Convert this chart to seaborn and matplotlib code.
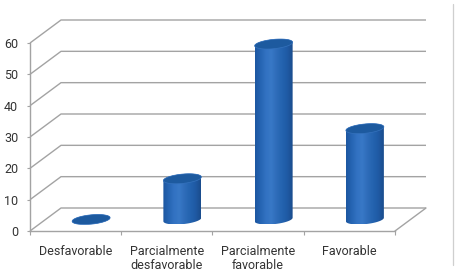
import numpy as np
import pandas as pd
import matplotlib
matplotlib.use("Agg")
import matplotlib.pyplot as plt
import seaborn as sns
from matplotlib.patches import Polygon
from matplotlib.colors import LinearSegmentedColormap

# ---- data ----
categories = ["Desfavorable", "Parcialmente\ndesfavorable", "Parcialmente\nfavorable", "Favorable"]
values = [0, 13, 56, 29]
y_ticks = [0, 10, 20, 30, 40, 50, 60]

sns.set_theme(style="white")
plt.rcParams['font.family'] = ['Roboto', 'DejaVu Sans']

W, H = 459, 280
fig = plt.figure(figsize=(W / 100, H / 100), dpi=100)
ax = fig.add_axes([0, 0, 1, 1])

df = pd.DataFrame({"cat": categories, "val": values})

# layout scale (pixels per data unit)
PX_X = 91.25
PX_Y = 188 / 60
X0PX, Y0PX = 30, 231
DX = 31 / PX_X      # depth offset (category units)
DY = 23 / PX_Y      # depth offset (value units)
GRID = '#a3a3a3'

bar_width = 38 / PX_X
sns.barplot(data=df, x="cat", y="val", width=bar_width, errorbar=None,
            color='#2a68b5', ax=ax, zorder=3)

# back walls / grid
for v in y_ticks:
    ax.plot([-0.5, -0.5 + DX, 3.5 + DX], [v, v + DY, v + DY], color=GRID, lw=1.0,
            zorder=1, solid_capstyle='butt')
ax.plot([3.5, 3.5 + DX], [0, DY], color=GRID, lw=1.0, zorder=1)

# cylinder rendering
cmap = LinearSegmentedColormap.from_list(
    "cyl", ['#1c56a0', '#2564b2', '#3272c2', '#3878c6', '#2e6cb9', '#2463af', '#1f5aa4', '#1a4c8c'])
BY = 5.0 / PX_Y
BX = BY * DX / DY


def ellipse(xc, yc, a):
    t = np.linspace(0, 2 * np.pi, 120)
    return np.column_stack([xc + a * np.cos(t) + BX * np.sin(t), yc + BY * np.sin(t)])


def hull(points):
    pts = sorted(map(tuple, points))
    def cross(o, a, b):
        return (a[0] - o[0]) * (b[1] - o[1]) - (a[1] - o[1]) * (b[0] - o[0])
    lower, upper = [], []
    for p in pts:
        while len(lower) >= 2 and cross(lower[-2], lower[-1], p) <= 0:
            lower.pop()
        lower.append(p)
    for p in reversed(pts):
        while len(upper) >= 2 and cross(upper[-2], upper[-1], p) <= 0:
            upper.pop()
        upper.append(p)
    return np.array(lower[:-1] + upper[:-1])


for p in list(ax.patches):
    half = p.get_width() / 2
    xc = p.get_x() + half + DX / 2
    h = p.get_height()
    base = DY / 2
    a = np.sqrt(max(half ** 2 - BX ** 2, 1e-6))
    bot = ellipse(xc, base, a)
    top = ellipse(xc, base + h, a)
    hp = Polygon(hull(np.vstack([bot, top])), closed=True, facecolor='none',
                 edgecolor='none', transform=ax.transData)
    ax.add_patch(hp)
    grad = np.linspace(0, 1, 256).reshape(1, -1)
    im = ax.imshow(grad, cmap=cmap, extent=[xc - half, xc + half, base - BY, base + h + BY],
                   aspect='auto', zorder=3, interpolation='bilinear')
    im.set_clip_path(hp)
    ax.add_patch(Polygon(top, closed=True, facecolor='#1d5a9f', edgecolor='#3572bd',
                         lw=0.5, zorder=4))
    p.set_visible(False)

# axes, spines, ticks
ax.set_xlim(-0.5 - X0PX / PX_X, -0.5 + (W - X0PX) / PX_X)
ax.set_ylim(-(H - Y0PX) / PX_Y, Y0PX / PX_Y)
for s in ['top', 'right']:
    ax.spines[s].set_visible(False)
ax.spines['left'].set_position(('data', -0.5))
ax.spines['left'].set_bounds(0, 60)
ax.spines['bottom'].set_position(('data', 0))
ax.spines['bottom'].set_bounds(-0.5, 3.5)
for s in ['left', 'bottom']:
    ax.spines[s].set_color(GRID)
    ax.spines[s].set_linewidth(1.0)

ax.set_yticks(y_ticks)
ax.set_yticklabels([str(v) for v in y_ticks])
ax.tick_params(axis='y', left=True, direction='out', length=2.5, width=0.8,
               color=GRID, pad=6, labelsize=9, labelcolor='#333333')
ax.set_xticks(range(len(categories)))
ax.set_xticklabels(categories, linespacing=1.15)
ax.set_xticks(np.arange(-0.5, len(categories), 1), minor=True)
ax.tick_params(axis='x', which='major', bottom=True, length=0, pad=10,
               labelsize=9, labelcolor='#333333')
ax.tick_params(axis='x', which='minor', bottom=True, direction='out', length=3,
               width=0.8, color=GRID)
ax.set_xlabel('')
ax.set_ylabel('')

# chart-area border on the right
ax.axvline(-0.5 + (453 - X0PX) / PX_X, ymin=(H - 265) / H, ymax=(H - 4) / H,
           color='#cfcfcf', lw=0.9)

fig.savefig('out.png', dpi=100)
